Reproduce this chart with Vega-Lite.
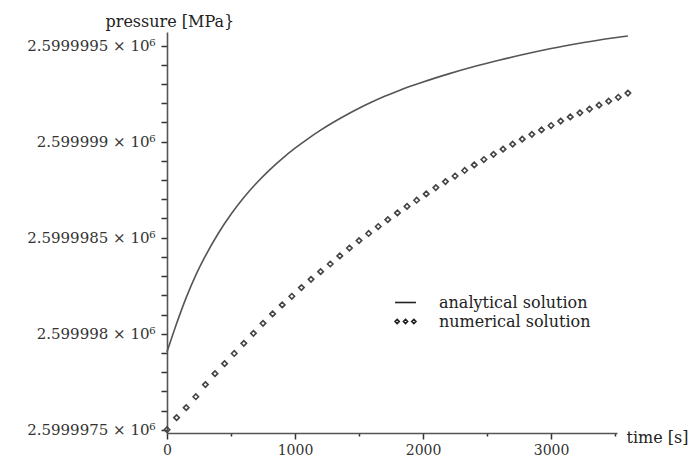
{
  "$schema": "https://vega.github.io/schema/vega-lite/v6.json",
  "autosize": {"type": "none"},
  "padding": {"left": 167, "top": 32, "right": 82, "bottom": 35},
  "width": 450,
  "height": 401,
  "background": "white",
  "config": {"view": {"stroke": null}, "font": "DejaVu Serif"},
  "data": {"values": [
    {"series": "analytical solution", "t": 0, "p": 2599997.905},
    {"series": "analytical solution", "t": 75, "p": 2599998.053},
    {"series": "analytical solution", "t": 150, "p": 2599998.188},
    {"series": "analytical solution", "t": 225, "p": 2599998.305},
    {"series": "analytical solution", "t": 300, "p": 2599998.405},
    {"series": "analytical solution", "t": 400, "p": 2599998.522},
    {"series": "analytical solution", "t": 500, "p": 2599998.622},
    {"series": "analytical solution", "t": 600, "p": 2599998.709},
    {"series": "analytical solution", "t": 700, "p": 2599998.785},
    {"series": "analytical solution", "t": 800, "p": 2599998.852},
    {"series": "analytical solution", "t": 900, "p": 2599998.912},
    {"series": "analytical solution", "t": 1000, "p": 2599998.966},
    {"series": "analytical solution", "t": 1100, "p": 2599999.015},
    {"series": "analytical solution", "t": 1200, "p": 2599999.06},
    {"series": "analytical solution", "t": 1300, "p": 2599999.101},
    {"series": "analytical solution", "t": 1400, "p": 2599999.139},
    {"series": "analytical solution", "t": 1500, "p": 2599999.174},
    {"series": "analytical solution", "t": 1600, "p": 2599999.206},
    {"series": "analytical solution", "t": 1700, "p": 2599999.236},
    {"series": "analytical solution", "t": 1800, "p": 2599999.263},
    {"series": "analytical solution", "t": 1900, "p": 2599999.288},
    {"series": "analytical solution", "t": 2000, "p": 2599999.311},
    {"series": "analytical solution", "t": 2200, "p": 2599999.353},
    {"series": "analytical solution", "t": 2400, "p": 2599999.391},
    {"series": "analytical solution", "t": 2600, "p": 2599999.425},
    {"series": "analytical solution", "t": 2800, "p": 2599999.456},
    {"series": "analytical solution", "t": 3000, "p": 2599999.485},
    {"series": "analytical solution", "t": 3200, "p": 2599999.51},
    {"series": "analytical solution", "t": 3400, "p": 2599999.532},
    {"series": "analytical solution", "t": 3600, "p": 2599999.55},
    {"series": "numerical solution", "t": 0, "p": 2599997.5},
    {"series": "numerical solution", "t": 75, "p": 2599997.563},
    {"series": "numerical solution", "t": 150, "p": 2599997.615},
    {"series": "numerical solution", "t": 225, "p": 2599997.672},
    {"series": "numerical solution", "t": 300, "p": 2599997.735},
    {"series": "numerical solution", "t": 375, "p": 2599997.792},
    {"series": "numerical solution", "t": 450, "p": 2599997.844},
    {"series": "numerical solution", "t": 525, "p": 2599997.897},
    {"series": "numerical solution", "t": 600, "p": 2599997.95},
    {"series": "numerical solution", "t": 675, "p": 2599998.002},
    {"series": "numerical solution", "t": 750, "p": 2599998.054},
    {"series": "numerical solution", "t": 825, "p": 2599998.103},
    {"series": "numerical solution", "t": 900, "p": 2599998.15},
    {"series": "numerical solution", "t": 975, "p": 2599998.195},
    {"series": "numerical solution", "t": 1050, "p": 2599998.24},
    {"series": "numerical solution", "t": 1125, "p": 2599998.283},
    {"series": "numerical solution", "t": 1200, "p": 2599998.323},
    {"series": "numerical solution", "t": 1275, "p": 2599998.363},
    {"series": "numerical solution", "t": 1350, "p": 2599998.405},
    {"series": "numerical solution", "t": 1425, "p": 2599998.446},
    {"series": "numerical solution", "t": 1500, "p": 2599998.485},
    {"series": "numerical solution", "t": 1575, "p": 2599998.522},
    {"series": "numerical solution", "t": 1650, "p": 2599998.558},
    {"series": "numerical solution", "t": 1725, "p": 2599998.594},
    {"series": "numerical solution", "t": 1800, "p": 2599998.629},
    {"series": "numerical solution", "t": 1875, "p": 2599998.663},
    {"series": "numerical solution", "t": 1950, "p": 2599998.695},
    {"series": "numerical solution", "t": 2025, "p": 2599998.728},
    {"series": "numerical solution", "t": 2100, "p": 2599998.761},
    {"series": "numerical solution", "t": 2175, "p": 2599998.792},
    {"series": "numerical solution", "t": 2250, "p": 2599998.821},
    {"series": "numerical solution", "t": 2325, "p": 2599998.85},
    {"series": "numerical solution", "t": 2400, "p": 2599998.879},
    {"series": "numerical solution", "t": 2475, "p": 2599998.907},
    {"series": "numerical solution", "t": 2550, "p": 2599998.934},
    {"series": "numerical solution", "t": 2625, "p": 2599998.961},
    {"series": "numerical solution", "t": 2700, "p": 2599998.987},
    {"series": "numerical solution", "t": 2775, "p": 2599999.013},
    {"series": "numerical solution", "t": 2850, "p": 2599999.038},
    {"series": "numerical solution", "t": 2925, "p": 2599999.061},
    {"series": "numerical solution", "t": 3000, "p": 2599999.084},
    {"series": "numerical solution", "t": 3075, "p": 2599999.107},
    {"series": "numerical solution", "t": 3150, "p": 2599999.129},
    {"series": "numerical solution", "t": 3225, "p": 2599999.15},
    {"series": "numerical solution", "t": 3300, "p": 2599999.17},
    {"series": "numerical solution", "t": 3375, "p": 2599999.19},
    {"series": "numerical solution", "t": 3450, "p": 2599999.211},
    {"series": "numerical solution", "t": 3525, "p": 2599999.231},
    {"series": "numerical solution", "t": 3600, "p": 2599999.253}
  ]},
  "encoding": {
    "x": {
      "field": "t", "type": "quantitative",
      "scale": {"domain": [0, 3515], "nice": false, "zero": false},
      "axis": {
        "values": [0, 500, 1000, 1500, 2000, 2500, 3000, 3500],
        "format": "d",
        "labelExpr": "datum.value % 1000 === 0 ? datum.label : ''",
        "ticks": true,
        "tickSize": {"condition": {"test": "datum.value % 1000 === 0", "value": 6}, "value": 3},
        "tickColor": "#333", "tickWidth": 1.5,
        "domainColor": "#555", "domainWidth": 1.6,
        "grid": false,
        "labelFont": "DejaVu Serif", "labelFontSize": 14, "labelColor": "#333",
        "labelPadding": 4, "labelFlush": false, "labelOverlap": false,
        "title": "time [s]",
        "titleX": 459, "titleY": 9, "titleAlign": "left", "titleAnchor": "start",
        "titleBaseline": "alphabetic",
        "titleFont": "DejaVu Serif", "titleFontSize": 16, "titleFontWeight": "normal", "titleColor": "#222"
      }
    },
    "y": {
      "field": "p", "type": "quantitative",
      "scale": {"domain": [2599997.483, 2599999.571], "nice": false, "zero": false},
      "axis": {
        "values": [2599997.5, 2599997.6, 2599997.7, 2599997.8, 2599997.9, 2599998, 2599998.1, 2599998.2, 2599998.3, 2599998.4, 2599998.5, 2599998.6, 2599998.7, 2599998.8, 2599998.9, 2599999, 2599999.1, 2599999.2, 2599999.3, 2599999.4, 2599999.5],
        "labelExpr": "abs(round(datum.value * 2) - datum.value * 2) < 1e-6 ? format(datum.value / 1000000, '.7~f') + ' × 10⁶' : ''",
        "ticks": true,
        "tickSize": 6, "tickColor": "#333", "tickWidth": 1.5,
        "domainColor": "#555", "domainWidth": 1.6,
        "grid": false,
        "labelFont": "DejaVu Serif", "labelFontSize": 15, "labelColor": "#333",
        "labelPadding": 6, "labelFlush": false, "labelOverlap": false,
        "title": "pressure [MPa}",
        "titleAngle": 0, "titleX": -62, "titleY": -6, "titleAlign": "left", "titleAnchor": "start",
        "titleBaseline": "alphabetic",
        "titleFont": "DejaVu Serif", "titleFontSize": 16, "titleFontWeight": "normal", "titleColor": "#222"
      }
    }
  },
  "layer": [
    {
      "transform": [{"filter": "datum.series === 'analytical solution'"}],
      "mark": {"type": "line", "color": "#555", "strokeWidth": 1.6, "interpolate": "monotone"}
    },
    {
      "transform": [{"filter": "datum.series === 'numerical solution'"}],
      "mark": {"type": "point", "shape": "diamond", "filled": false, "color": "#444", "strokeWidth": 1.6, "size": 30, "opacity": 1}
    },
    {
      "mark": {"type": "point", "filled": false, "color": "#222", "opacity": 0},
      "encoding": {
        "shape": {
          "field": "series", "type": "nominal",
          "scale": {
            "domain": ["analytical solution", "numerical solution"],
            "range": ["M-1.1,0L1.1,0", "M-0.88,-0.22L-0.66,0L-0.88,0.22L-1.1,0Z M0,-0.22L0.22,0L0,0.22L-0.22,0Z M0.88,-0.22L1.1,0L0.88,0.22L0.66,0Z"]
          },
          "legend": {
            "orient": "none", "legendX": 228, "legendY": 260,
            "title": null, "padding": 0,
            "symbolSize": 361, "symbolStrokeWidth": 1.6, "symbolOpacity": 1,
            "symbolStrokeColor": "#222", "symbolFillColor": "transparent",
            "labelFont": "DejaVu Serif", "labelFontSize": 16, "labelColor": "#222",
            "labelOffset": 23, "rowPadding": 0
          }
        }
      }
    }
  ]
}
